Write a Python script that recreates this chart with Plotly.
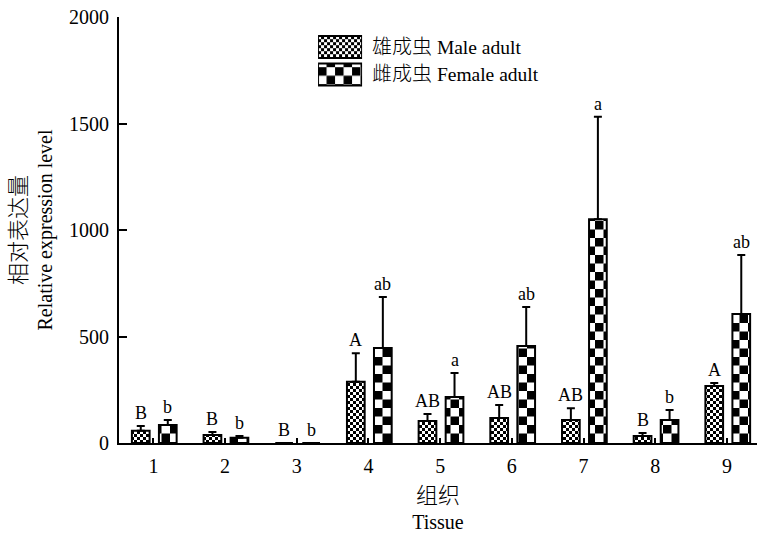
import plotly.graph_objects as go

tissues = [1, 2, 3, 4, 5, 6, 7, 8, 9]
tick_labels = ["1", "2", "3", "4", "5", "6", "7", "8", "9"]

male_cn, male_en = "雄成虫", "Male adult"
female_cn, female_en = "雌成虫", "Female adult"

male_values = [58, 38, 0, 288, 103, 117, 108, 33, 268]
male_errors = [22, 14, 0, 133, 33, 61, 55, 14, 14]
male_letters = ["B", "B", "B", "A", "AB", "AB", "AB", "B", "A"]

female_values = [85, 25, 0, 446, 216, 455, 1050, 108, 606]
female_errors = [23, 8, 0, 239, 113, 183, 482, 47, 277]
female_letters = ["b", "b", "b", "ab", "a", "ab", "a", "b", "ab"]

y_title_cn, y_title_en = "相对表达量", "Relative expression level"
x_title_cn, x_title_en = "组织", "Tissue"

FONT = "Liberation Serif, 'Noto Sans CJK SC', serif"
BAR_W = 0.247
MALE_OFF = -0.30
FEMALE_OFF = 0.077


def cn(text, size):
    return '<span style="font-size:%dpx;font-weight:300">%s</span>' % (size, text)


male_pattern = dict(shape="+", bgcolor="white", fgcolor="black", size=6, solidity=0.5)
female_pattern = dict(shape="+", bgcolor="white", fgcolor="black", size=17, solidity=0.5)

fig = go.Figure()

fig.add_trace(go.Bar(
    x=tissues, y=male_values, name=male_cn + " " + male_en,
    offset=MALE_OFF, width=BAR_W,
    marker=dict(pattern=male_pattern, line=dict(color="black", width=2)),
    error_y=dict(type="data", array=male_errors, arrayminus=[0] * len(male_errors),
                 symmetric=False, color="black", thickness=2, width=4),
    showlegend=False,
))
fig.add_trace(go.Bar(
    x=tissues, y=female_values, name=female_cn + " " + female_en,
    offset=FEMALE_OFF, width=BAR_W,
    marker=dict(pattern=female_pattern, line=dict(color="black", width=2)),
    error_y=dict(type="data", array=female_errors, arrayminus=[0] * len(female_errors),
                 symmetric=False, color="black", thickness=2, width=4),
    showlegend=False,
))

annotations = []
for t, v, e, lab in zip(tissues, male_values, male_errors, male_letters):
    annotations.append(dict(x=t + MALE_OFF + BAR_W / 2, y=v + e, xref="x", yref="y",
                            text=lab, showarrow=False, yanchor="bottom", yshift=1,
                            font=dict(family=FONT, size=18, color="black")))
for t, v, e, lab in zip(tissues, female_values, female_errors, female_letters):
    annotations.append(dict(x=t + FEMALE_OFF + BAR_W / 2, y=v + e, xref="x", yref="y",
                            text=lab, showarrow=False, yanchor="bottom", yshift=1,
                            font=dict(family=FONT, size=18, color="black")))

# custom legend with large patterned swatches
legend_texts = [cn(male_cn, 20) + " " + male_en, cn(female_cn, 20) + " " + female_en]
legend_patterns = [male_pattern, female_pattern]
legend_rows = [1, 0]
for txt, pat, row in zip(legend_texts, legend_patterns, legend_rows):
    fig.add_trace(go.Bar(
        x=[1], y=[row], orientation="h", xaxis="x2", yaxis="y2", width=0.8,
        marker=dict(pattern=pat, line=dict(color="black", width=2)),
        showlegend=False, hoverinfo="skip",
    ))
    annotations.append(dict(x=1, y=row, xref="x2", yref="y2", text=txt,
                            showarrow=False, xanchor="left", xshift=8,
                            font=dict(family=FONT, size=19.5, color="black")))

fig.update_layout(
    width=757, height=536,
    margin=dict(l=119, r=0, t=17, b=93),
    plot_bgcolor="white", paper_bgcolor="white",
    font=dict(family=FONT, size=20, color="black"),
    barmode="overlay",
    annotations=annotations,
    xaxis=dict(
        range=[0.52, 9.42], tickmode="array", tickvals=tissues, ticktext=tick_labels,
        showline=True, linecolor="black", linewidth=2,
        ticks="inside", ticklen=5, tickwidth=2, tickcolor="black",
        showgrid=False, zeroline=False, automargin=False,
        ticklabelstandoff=4,
        tickfont=dict(family=FONT, size=20),
        title=dict(text=cn(x_title_cn, 22) + "<br>" + x_title_en,
                   font=dict(family=FONT, size=20), standoff=13),
    ),
    yaxis=dict(
        range=[0, 2000], tickmode="array", tickvals=[0, 500, 1000, 1500, 2000],
        showline=True, linecolor="black", linewidth=2,
        ticks="inside", ticklen=8, tickwidth=2, tickcolor="black",
        showgrid=False, zeroline=False, automargin=False,
        ticklabelstandoff=4,
        tickfont=dict(family=FONT, size=20),
        title=dict(text=cn(y_title_cn, 22) + "<br>" + y_title_en,
                   font=dict(family=FONT, size=20), standoff=11),
    ),
    xaxis2=dict(domain=[0.312, 0.381], range=[0, 1], anchor="y2",
                visible=False, fixedrange=True),
    yaxis2=dict(domain=[0.833, 0.962], range=[-0.5, 1.5], anchor="x2",
                visible=False, fixedrange=True),
)

post = """
document.body.style.margin = '0';
document.body.style.padding = '0';
var gd = document.getElementById('{plot_id}');
function checker(){
  var ns = 'http://www.w3.org/2000/svg';
  document.querySelectorAll('pattern').forEach(function(p){
    if (p.getAttribute('data-checker')) return;
    var w = parseFloat(p.getAttribute('width'));
    var h = parseFloat(p.getAttribute('height'));
    while (p.firstChild) p.removeChild(p.firstChild);
    function r(x, y, ww, hh, c){
      var e = document.createElementNS(ns, 'rect');
      e.setAttribute('x', x); e.setAttribute('y', y);
      e.setAttribute('width', ww); e.setAttribute('height', hh);
      e.setAttribute('fill', c); p.appendChild(e);
    }
    r(0, 0, w, h, '#ffffff');
    r(0, 0, w / 2, h / 2, '#000000');
    r(w / 2, h / 2, w / 2, h / 2, '#000000');
    p.setAttribute('data-checker', '1');
  });
}
checker();
if (gd && gd.on) { gd.on('plotly_afterplot', checker); }
"""

fig.write_html("out.html", post_script=post, config={"displayModeBar": False})
